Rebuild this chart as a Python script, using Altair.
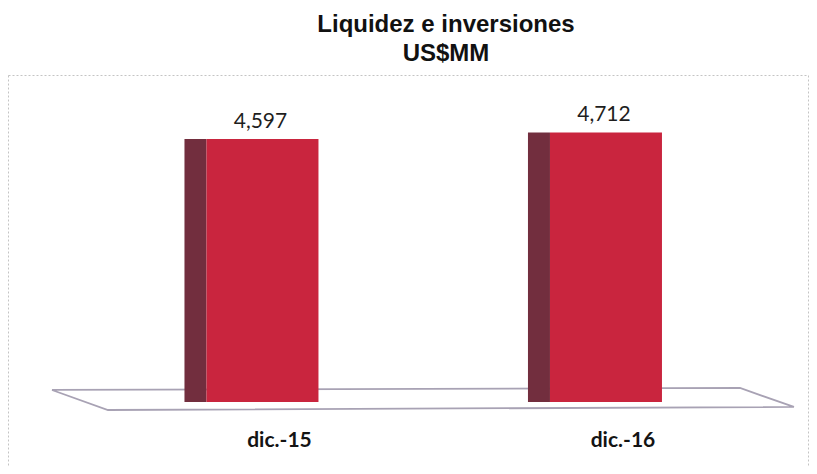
import altair as alt
import pandas as pd

# ---- data ----
categories = ["dic.-15", "dic.-16"]
values = [4597, 4712]

# floor parallelogram of the 3D plot (category-index units, value units)
floor_pos = [-0.613, 1.390, 1.547, -0.450, -0.613]
floor_val = [210, 245, -87, -140, 210]
floor_ord = [0, 1, 2, 3, 4]

bars_df = pd.DataFrame({"cat": categories, "val": values})
floor_df = pd.DataFrame({"pos": floor_pos, "val": floor_val, "ord": floor_ord})

yscale = alt.Scale(domain=[-1119, 5716], nice=False, zero=False)
xband = alt.Scale(paddingInner=0, paddingOuter=0.1645, align=0.732)

x_axis = alt.Axis(
    orient="bottom", title=None, domain=False, ticks=False, tickSize=0,
    labelAngle=0, labelFont="Lato", labelFontSize=21, labelFontWeight="bold",
    labelColor="#141414", labelOffset=17, labelPadding=2, offset=-22,
    labelBaseline="alphabetic", grid=False,
)
xenc = alt.X("cat:N", scale=xband, sort=categories, axis=x_axis)
yenc = alt.Y("val:Q", scale=yscale, axis=None)

floor = alt.Chart(floor_df).mark_line(color="#a8a2b4", strokeWidth=1.8).encode(
    x=alt.X("pos:Q", scale=alt.Scale(domain=[-0.741, 1.588], nice=False, zero=False), axis=None),
    y=yenc,
    order="ord:O",
)

side = alt.Chart(bars_df).mark_bar(size=22, xOffset=-67, y2Offset=-5, color="#722e3e").encode(
    x=xenc, y=yenc
)
front = alt.Chart(bars_df).mark_bar(size=112, color="#c9253e").encode(x=xenc, y=yenc)
labels = alt.Chart(bars_df).mark_text(
    dy=-11, dx=-2, baseline="alphabetic", font="Lato", fontSize=21, color="#1e1e1e"
).encode(x=xenc, y=yenc, text=alt.Text("val:Q", format=",.0f"))

bars = alt.layer(side, front, labels)

chart = (
    alt.layer(floor, bars)
    .resolve_scale(x="independent")
    .properties(
        width=800,
        height=391,
        autosize="none",
        padding={"left": 0, "top": 67, "right": 1, "bottom": 0},
        title=alt.Title(
            ["Liquidez e inversiones", "US$MM"],
            font="Liberation Sans", fontSize=24, fontWeight="bold",
            lineHeight=29, dx=38, offset=9, anchor="middle", frame="group",
            color="#111111",
        ),
    )
    .configure_view(stroke="#c4c4c4", strokeDash=[2, 2], strokeWidth=1)
)

chart.save("out.html", embed_options={"renderer": "svg", "actions": False})
